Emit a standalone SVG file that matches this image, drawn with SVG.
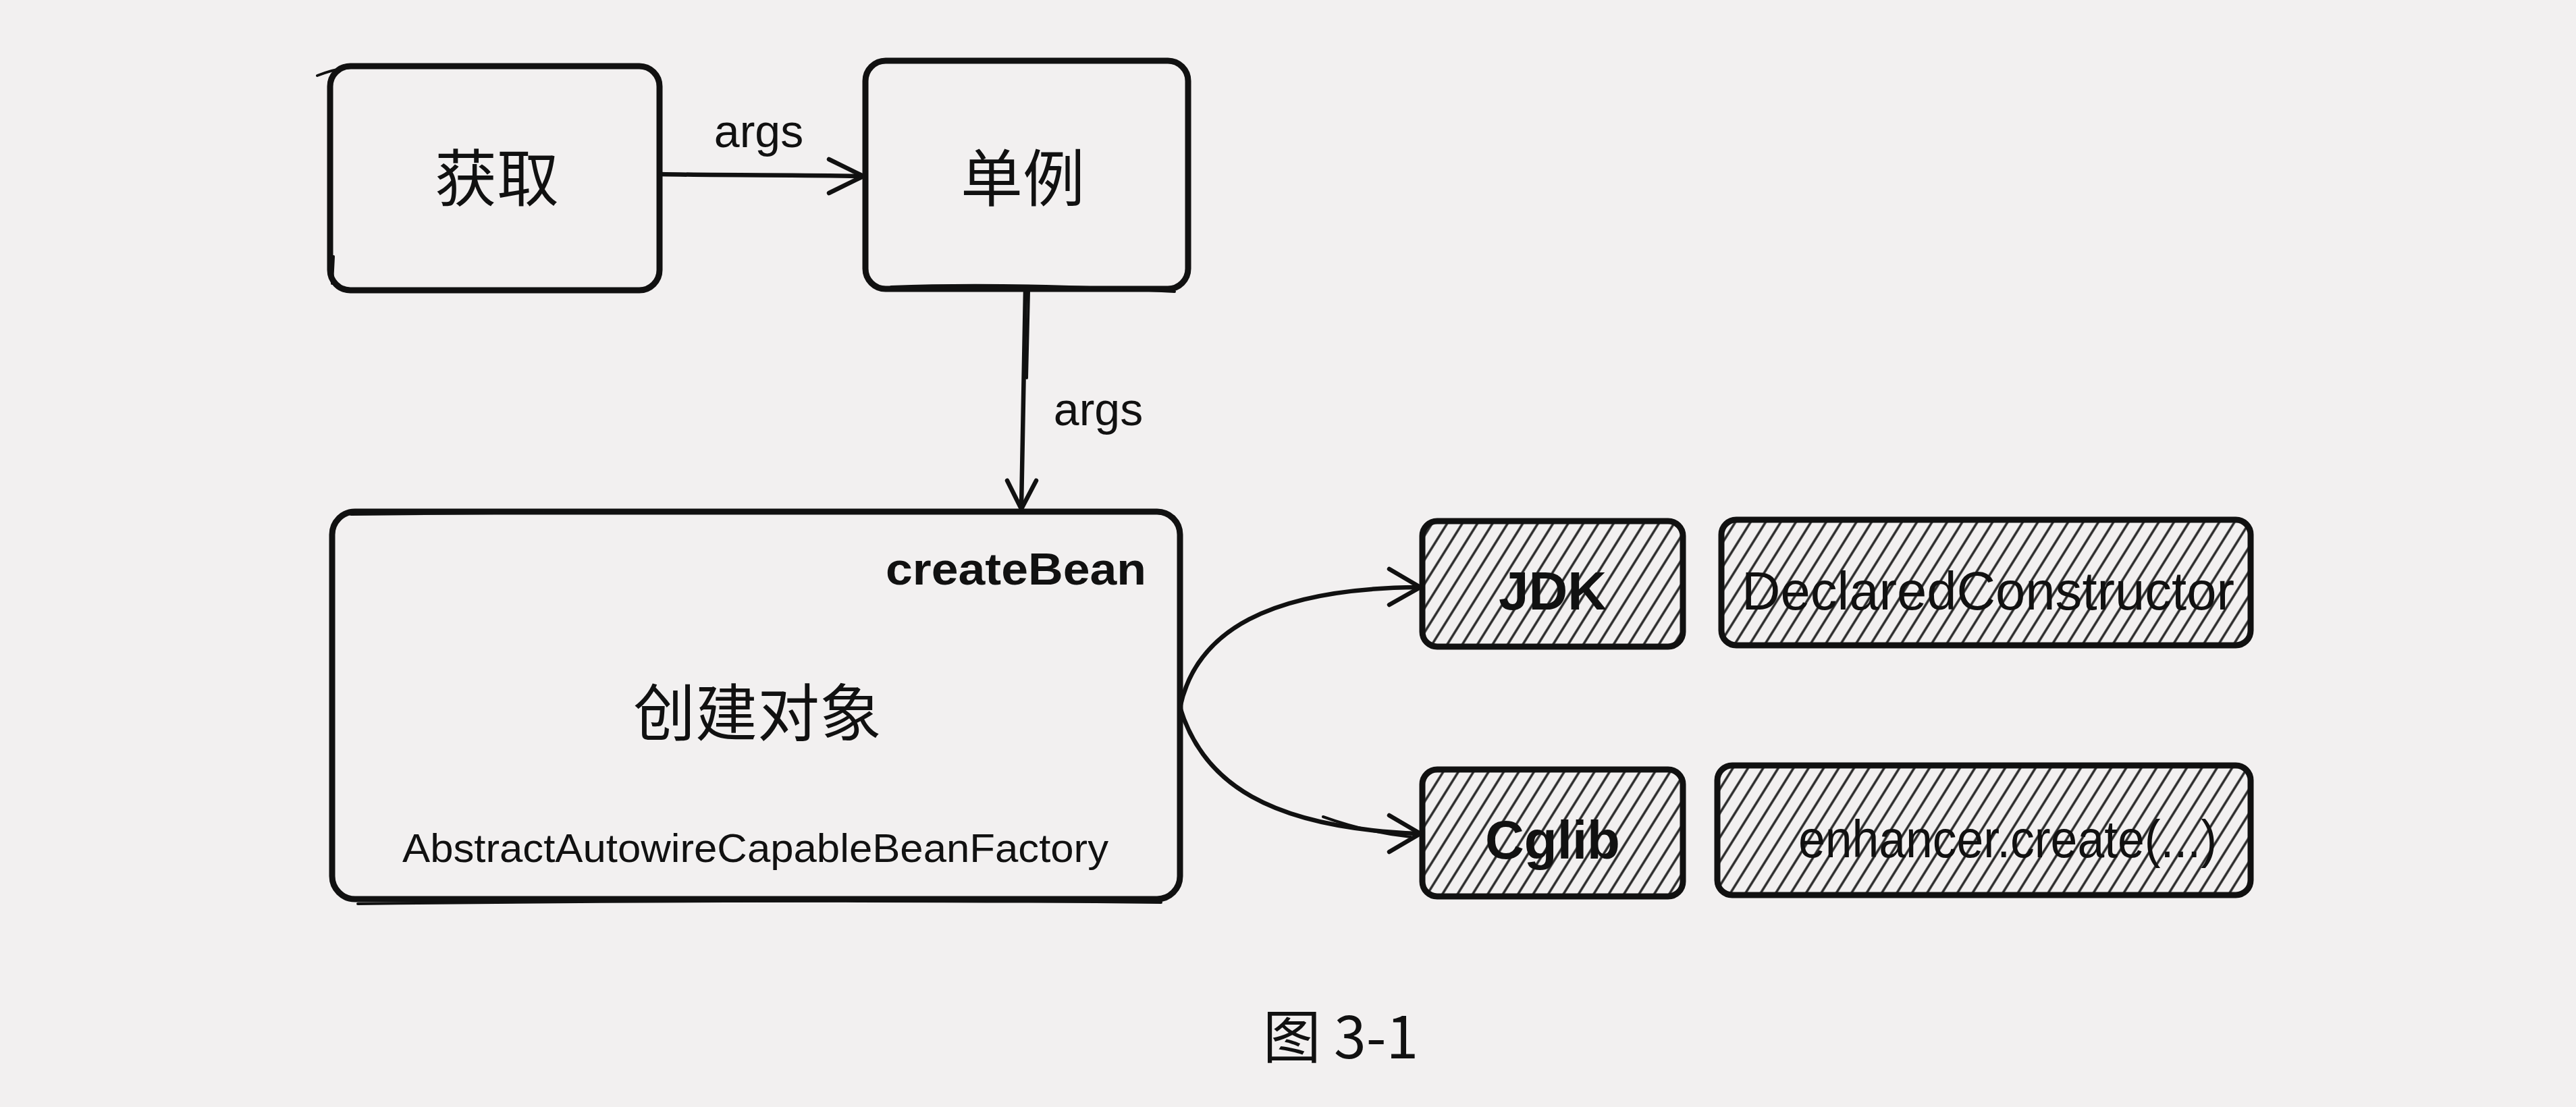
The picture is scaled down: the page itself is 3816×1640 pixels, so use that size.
<svg xmlns="http://www.w3.org/2000/svg" width="3816" height="1640" viewBox="0 0 3816 1640">
  <defs>
    <pattern id="hatch" patternUnits="userSpaceOnUse" width="19" height="19" patternTransform="rotate(32)">
      <line x1="6" y1="0" x2="6" y2="19" stroke="#262626" stroke-width="3.4"/>
    </pattern>
    <style>
      .box { fill: none; stroke: #111; stroke-width: 9; stroke-linecap: round; stroke-linejoin: round; }
      .sk { fill: none; stroke: #111; stroke-width: 4; stroke-linecap: round; }
      .hbox { fill: url(#hatch); stroke: #111; stroke-width: 9; stroke-linejoin: round; }
      .edge { fill: none; stroke: #111; stroke-width: 6.5; stroke-linecap: round; stroke-linejoin: round; }
      .head { fill: none; stroke: #111; stroke-width: 6.5; stroke-linecap: round; stroke-linejoin: round; }
      .cjk { font-family: "Noto Sans CJK SC", "Noto Sans", sans-serif; fill: #111; }
      .lat { font-family: "Liberation Sans", "DejaVu Sans", sans-serif; fill: #111; }
      .bold { font-weight: bold; }
    </style>
  </defs>

  <rect x="0" y="0" width="3816" height="1640" fill="#f2f0f0"/>

  <g id="connectors">
    <!-- 获取 -> 单例 -->
    <path class="edge" d="M977,258 C1080,260 1180,259 1278,261"/>
    <path class="head" d="M1228,236 L1279,261 L1228,286"/>
    <text class="lat" x="1124" y="218" font-size="68" text-anchor="middle">args</text>
    <!-- 单例 -> 创建对象 -->
    <path class="edge" d="M1519,430 C1517,540 1515,650 1513,752"/>
    <path class="sk" d="M1524,432 L1521,560"/>
    <path class="head" d="M1492,712 L1513,754 L1535,712"/>
    <text class="lat" x="1627" y="630" font-size="68" text-anchor="middle">args</text>
    <!-- 创建对象 -> JDK -->
    <path class="edge" d="M1748,1048 C1772,935 1880,872 2100,870"/>
    <path class="head" d="M2058,843 L2104,870 L2058,896"/>
    <!-- 创建对象 -> Cglib -->
    <path class="edge" d="M1748,1048 C1782,1160 1880,1226 2100,1235"/>
    <path class="sk" d="M1960,1210 C2010,1228 2050,1236 2090,1240"/>
    <path class="head" d="M2058,1208 L2104,1235 L2058,1262"/>
  </g>

  <g id="node-huoqu">
    <rect class="box" x="489" y="98" width="488" height="332" rx="30" ry="30"/>
    <path class="sk" d="M470,112 C500,100 520,98 560,100"/>
    <path class="sk" d="M494,380 L492,420"/>
    <text class="cjk" x="736" y="298" font-size="92" text-anchor="middle">获取</text>
  </g>

  <g id="node-danli">
    <rect class="box" x="1282" y="90" width="478" height="338" rx="30" ry="30"/>
    <path class="sk" d="M1320,425 C1450,420 1600,424 1740,432"/>
    <text class="cjk" x="1515" y="298" font-size="92" text-anchor="middle">单例</text>
  </g>

  <g id="node-create">
    <rect class="box" x="492" y="758" width="1256" height="574" rx="34" ry="34"/>
    <path class="sk" d="M530,1339 C900,1335 1300,1333 1720,1337"/>
    <path class="sk" d="M520,762 C900,758 1300,756 1720,760"/>
    <text class="lat bold" x="1698" y="866" font-size="66" text-anchor="end" textLength="386" lengthAdjust="spacingAndGlyphs">createBean</text>
    <text class="cjk" x="1122" y="1090" font-size="92" text-anchor="middle">创建对象</text>
    <text class="lat" x="596" y="1277" font-size="60" textLength="1046" lengthAdjust="spacingAndGlyphs">AbstractAutowireCapableBeanFactory</text>
  </g>

  <g id="node-jdk">
    <rect class="hbox" x="2107" y="772" width="386" height="186" rx="22" ry="22"/>
    <text class="lat bold" x="2300" y="903" font-size="80" text-anchor="middle">JDK</text>
  </g>

  <g id="node-declared">
    <rect class="hbox" x="2550" y="770" width="784" height="186" rx="22" ry="22"/>
    <text class="lat" x="2945" y="903" font-size="80" text-anchor="middle" textLength="730" lengthAdjust="spacingAndGlyphs">DeclaredConstructor</text>
  </g>

  <g id="node-cglib">
    <rect class="hbox" x="2107" y="1140" width="386" height="188" rx="22" ry="22"/>
    <text class="lat bold" x="2300" y="1272" font-size="80" text-anchor="middle">Cglib</text>
  </g>

  <g id="node-enhancer">
    <rect class="hbox" x="2544" y="1134" width="790" height="192" rx="22" ry="22"/>
    <text class="lat" x="2974" y="1270" font-size="78" text-anchor="middle" textLength="620" lengthAdjust="spacingAndGlyphs">enhancer.create(...)</text>
  </g>

  <g id="caption">
    <text class="cjk" x="1986" y="1568" font-size="86" text-anchor="middle">图 3-1</text>
  </g>
</svg>
